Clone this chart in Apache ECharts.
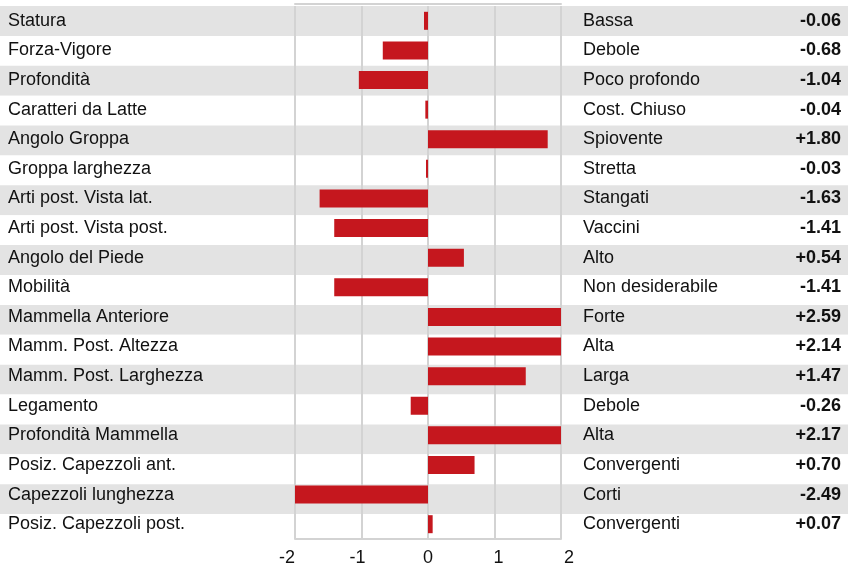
<!DOCTYPE html>
<html>
<head>
<meta charset="utf-8">
<script src="https://cdn.jsdelivr.net/npm/echarts@6/dist/echarts.min.js"></script>
<style>
  html, body { margin: 0; padding: 0; background: #fff; }
  #chart { width: 855px; height: 567px; }
</style>
</head>
<body>
<div id="chart"></div>
<script>
// caratteri morfologici
const traits = ['Statura', 'Forza-Vigore', 'Profondità', 'Caratteri da Latte', 'Angolo Groppa',
  'Groppa larghezza', 'Arti post. Vista lat.', 'Arti post. Vista post.', 'Angolo del Piede', 'Mobilità',
  'Mammella Anteriore', 'Mamm. Post. Altezza', 'Mamm. Post. Larghezza', 'Legamento',
  'Profondità Mammella', 'Posiz. Capezzoli ant.', 'Capezzoli lunghezza', 'Posiz. Capezzoli post.']
const descriptions = ['Bassa', 'Debole', 'Poco profondo', 'Cost. Chiuso', 'Spiovente',
  'Stretta', 'Stangati', 'Vaccini', 'Alto', 'Non desiderabile',
  'Forte', 'Alta', 'Larga', 'Debole',
  'Alta', 'Convergenti', 'Corti', 'Convergenti']
const values = [-0.06, -0.68, -1.04, -0.04, 1.80, -0.03, -1.63, -1.41, 0.54, -1.41,
  2.59, 2.14, 1.47, -0.26, 2.17, 0.70, -2.49, 0.07]
const tickLabels = ['-2', '-1', '0', '1', '2']

const font = "'Liberation Sans', Arial, Helvetica, sans-serif"
const lineColor = '#d3d3d3'
const textColor = '#111'
const fmt = v => (v > 0 ? '+' : '') + v.toFixed(2)

const chart = echarts.init(document.getElementById('chart'))

const rowAxis = (grid, extra) => Object.assign({
  type: 'category',
  gridIndex: grid,
  data: traits,
  inverse: true,
  axisLine: { show: false },
  axisTick: { show: false },
  splitLine: { show: false }
}, extra)

chart.setOption({
  animation: false,
  textStyle: { fontFamily: font },
  grid: [
    { left: 0, right: 7, top: 6, height: 538 },
    { left: 295, right: 294, top: 6, height: 538 }
  ],
  xAxis: [
    { type: 'value', gridIndex: 0, show: false, min: 0, max: 1 },
    {
      type: 'value', gridIndex: 1, min: -2, max: 2, interval: 1,
      axisLine: { show: true, onZero: false, lineStyle: { color: lineColor, width: 2 } },
      axisTick: { show: false },
      splitLine: { show: true, lineStyle: { color: lineColor, width: 2 } },
      axisLabel: {
        margin: 10,
        color: textColor,
        fontSize: 18,
        formatter: v => {
          const i = Math.round(v) + 2
          return '{t' + i + '|' + tickLabels[i] + '}'
        },
        rich: {
          t0: { fontSize: 18, padding: [0, 16, 0, 0] },
          t1: { fontSize: 18, padding: [0, 8, 0, 0] },
          t2: { fontSize: 18 },
          t3: { fontSize: 18, padding: [0, 0, 0, 8] },
          t4: { fontSize: 18, padding: [0, 0, 0, 16] }
        }
      }
    },
    {
      type: 'value', gridIndex: 1, position: 'top', min: -2, max: 2, offset: 2,
      axisLine: { show: true, lineStyle: { color: lineColor, width: 2 } },
      axisTick: { show: false },
      axisLabel: { show: false },
      splitLine: { show: false }
    }
  ],
  yAxis: [
    rowAxis(0, {
      z: -1,
      axisLabel: { show: false },
      splitArea: { show: true, areaStyle: { color: ['#e3e3e3', '#ffffff'] } }
    }),
    rowAxis(1, {
      position: 'left',
      axisLabel: { align: 'left', margin: 287, color: textColor, fontSize: 18, padding: [3, 0, 0, 0] }
    }),
    rowAxis(1, {
      position: 'right',
      axisLabel: {
        align: 'left', margin: 22, color: textColor, fontSize: 18, padding: [3, 0, 0, 0],
        formatter: (v, i) => descriptions[i]
      }
    }),
    rowAxis(1, {
      position: 'right',
      axisLabel: {
        align: 'right', margin: 280, color: textColor, fontSize: 18, fontWeight: 'bold',
        padding: [3, 0, 0, 0],
        formatter: (v, i) => fmt(values[i])
      }
    })
  ],
  series: [{
    type: 'bar',
    xAxisIndex: 1,
    yAxisIndex: 1,
    data: values,
    barWidth: 18,
    clip: true,
    itemStyle: { color: '#c5171e' }
  }]
})
</script>
</body>
</html>
